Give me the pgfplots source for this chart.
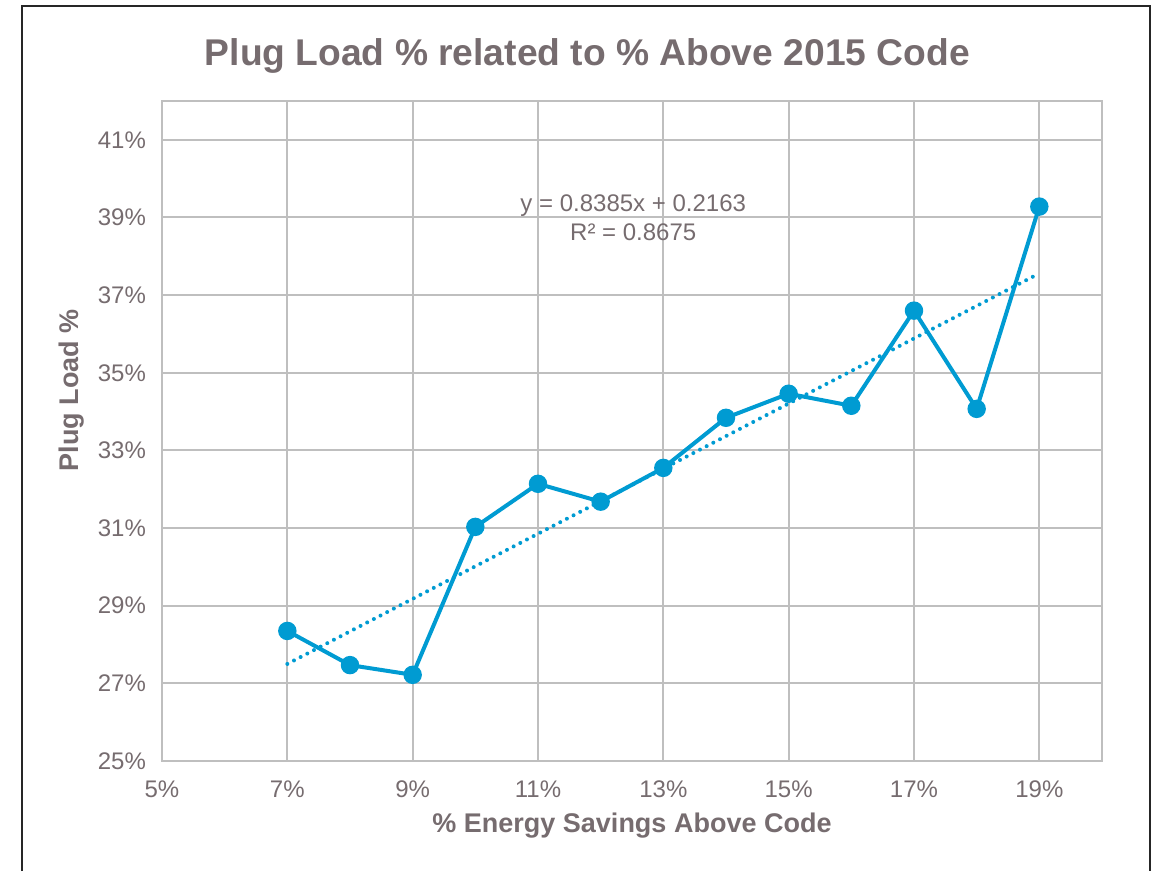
\documentclass[border=0pt]{standalone}
\usepackage{pgfplots}
\pgfplotsset{compat=1.18}
\usepackage{fontspec}
\setmainfont{Liberation Sans}
\definecolor{txtgray}{RGB}{118,108,111}
\definecolor{gridgray}{RGB}{191,191,191}
\definecolor{lineblue}{RGB}{0,155,210}
\begin{document}
\begin{tikzpicture}
\begin{axis}[
  scale only axis,
  width=470pt, height=330pt,
  xmin=5, xmax=20, ymin=25, ymax=42,
  xtick={5,7,...,19}, ytick={25,27,...,41},
  xticklabel={\pgfmathprintnumber{\tick}\%},
  yticklabel={\pgfmathprintnumber{\tick}\%},
  /pgf/number format/assume math mode=true,
  ticklabel style={font=\fontsize{12}{14}\selectfont, text=txtgray},
  xticklabel style={yshift=-6.5pt},
  yticklabel style={xshift=-4.5pt},
  major tick length=0pt,
  grid=major,
  grid style={gridgray, line width=1pt},
  axis line style={gridgray, line width=1pt},
  xlabel={\bfseries \% Energy Savings Above Code},
  ylabel={\bfseries Plug Load \%},
  label style={font=\fontsize{13.5}{15}\selectfont, text=txtgray},
  xlabel style={at={(rel axis cs:0.5,-0.0985)}, anchor=center},
  ylabel style={at={(rel axis cs:-0.096,0.562)}, anchor=center, rotate=0},
  clip=false,
]
\addplot[lineblue, line width=2pt, mark=*, mark size=3.6pt, mark options={fill=lineblue, draw=lineblue}] coordinates {
(7,28.35) (8,27.47) (9,27.22) (10,31.03) (11,32.14) (12,31.68) (13,32.55)
(14,33.84) (15,34.46) (16,34.15) (17,36.60) (18,34.07) (19,39.28)
};
\addplot[lineblue, line width=2pt, line cap=round, dash pattern=on 0pt off 3.75pt] coordinates {
(7,27.50) (19,37.56)
};
\node[align=center, font=\fontsize{12}{14.5}\selectfont, text=txtgray] at (axis cs:12.52,39.0) {y = 0.8385x + 0.2163\\R² = 0.8675};
\node[font=\fontsize{18.6}{22}\selectfont\bfseries, text=txtgray, anchor=base] at (rel axis cs:0.4525,1.0545) {Plug Load \% related to \% Above 2015 Code};
\coordinate (fbl) at (rel axis cs:-0.14894,-0.16667);
\coordinate (ftl) at (rel axis cs:-0.14894,1.14394);
\coordinate (ftr) at (rel axis cs:1.05106,1.14394);
\coordinate (fbr) at (rel axis cs:1.05106,-0.16667);
\coordinate (bb1) at (rel axis cs:-0.17234,-0.16667);
\coordinate (bb2) at (rel axis cs:1.05638,1.15303);
\end{axis}
\draw[line width=1.2pt, black!85] (fbl) -- (ftl) -- (ftr) -- (fbr);
\path[use as bounding box] (bb1) rectangle (bb2);
\end{tikzpicture}
\end{document}
